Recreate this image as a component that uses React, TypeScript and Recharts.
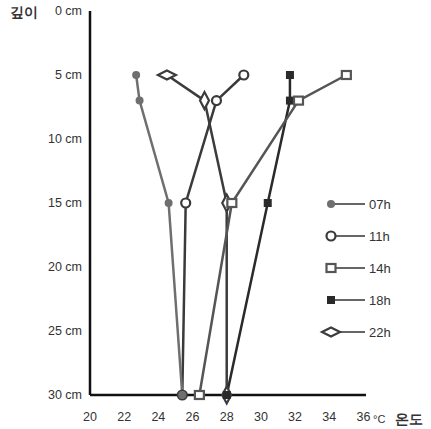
import { LineChart, Line, XAxis, YAxis } from 'recharts';

const DEPTHS = [5, 7, 15, 30];
const T07 = [22.7, 22.9, 24.6, 25.4];
const T11 = [29.0, 27.4, 25.6, 25.4];
const T14 = [35.0, 32.2, 28.3, 26.4];
const T18 = [31.7, 31.7, 30.4, 28.0];
const T22 = [24.5, 26.7, 28.0, 28.0];
const X_TICKS = [20, 22, 24, 26, 28, 30, 32, 34, 36];
const Y_TICKS = [0, 5, 10, 15, 20, 25, 30];

type Marker = 'dot' | 'circle' | 'square' | 'filledSquare' | 'diamond';

const toPoints = (temps: number[]) => temps.map((t, i) => ({ t, d: DEPTHS[i] }));

const SERIES: { name: string; temps: number[]; color: string; marker: Marker }[] = [
  { name: '07h', temps: T07, color: '#6f6f6f', marker: 'dot' },
  { name: '11h', temps: T11, color: '#3a3a3a', marker: 'circle' },
  { name: '14h', temps: T14, color: '#555555', marker: 'square' },
  { name: '18h', temps: T18, color: '#2a2a2a', marker: 'filledSquare' },
  { name: '22h', temps: T22, color: '#3c3c3c', marker: 'diamond' },
];

const FONT = '"Liberation Sans", Arial, sans-serif';

const drawMarker = (marker: Marker, color: string, cx: number, cy: number, key: string | number, wide = true) => {
  switch (marker) {
    case 'dot':
      return <circle key={key} cx={cx} cy={cy} r={4} fill={color} />;
    case 'circle':
      return <circle key={key} cx={cx} cy={cy} r={4.5} fill="#fff" stroke={color} strokeWidth={2.2} />;
    case 'square':
      return <rect key={key} x={cx - 4.5} y={cy - 4} width={9} height={8} fill="#fff" stroke={color} strokeWidth={2.2} />;
    case 'filledSquare':
      return <rect key={key} x={cx - 4} y={cy - 4} width={8} height={8} fill={color} />;
    case 'diamond': {
      const w = wide ? 9 : 4.5;
      const h = wide ? 4.5 : 8.5;
      return (
        <path
          key={key}
          d={`M${cx - w},${cy} L${cx},${cy - h} L${cx + w},${cy} L${cx},${cy + h} Z`}
          fill="#fff"
          stroke={color}
          strokeWidth={2.2}
          strokeLinejoin="miter"
        />
      );
    }
  }
};

const SideLegend = () => (
  <svg width={100} height={150} style={{ position: 'absolute', left: 319, top: 190 }}>
    {SERIES.map((s, i) => {
      const y = 14 + i * 32;
      return (
        <g key={s.name}>
          <line x1={12} y1={y} x2={46} y2={y} stroke="#666" strokeWidth={1.8} />
          {drawMarker(s.marker, s.color, 12, y, 'm', true)}
          <text x={50} y={y + 4.5} fontSize={13} fill="#333" fontFamily={FONT}>
            {s.name}
          </text>
        </g>
      );
    })}
  </svg>
);

export default function App() {
  return (
    <div style={{ position: 'absolute', left: 0, top: 0, width: 431, height: 429, background: '#fff' }}>
      <LineChart width={431} height={429} margin={{ top: 11, right: 65, left: 0, bottom: 0 }}>
        <XAxis
          type="number"
          dataKey="t"
          domain={[20, 36.15]}
          ticks={X_TICKS}
          allowDataOverflow
          height={34}
          tickSize={0}
          tickMargin={17}
          axisLine={{ stroke: '#111', strokeWidth: 2.5 }}
          tick={{ fill: '#333', fontSize: 12.5, fontFamily: FONT }}
          label={({ viewBox }: any) => (
            <g>
              <text x={viewBox.x + viewBox.width + 7} y={viewBox.y + 28} fontSize={11} fill="#333" fontFamily={FONT}>
                °C
              </text>
              <text x={viewBox.x + viewBox.width + 29} y={viewBox.y + 29} fontSize={14} fontWeight="bold" fill="#333" fontFamily={FONT}>
                온도
              </text>
            </g>
          )}
        />
        <YAxis
          type="number"
          dataKey="d"
          domain={[0, 30]}
          ticks={Y_TICKS}
          reversed
          width={90}
          tickSize={0}
          tickMargin={8}
          axisLine={{ stroke: '#111', strokeWidth: 2.5 }}
          tick={{ fill: '#333', fontSize: 12.5, fontFamily: FONT }}
          tickFormatter={(v) => `${v} cm`}
          label={({ viewBox }: any) => (
            <text x={10} y={viewBox.y + 6} fontSize={14} fontWeight="bold" fill="#333" fontFamily={FONT}>
              깊이
            </text>
          )}
        />
        {SERIES.slice().reverse().map((s) => (
          <Line
            key={s.name}
            data={toPoints(s.temps)}
            dataKey="d"
            name={s.name}
            type="linear"
            stroke={s.color}
            strokeWidth={2.5}
            isAnimationActive={false}
            dot={(p: any) => drawMarker(s.marker, s.color, p.cx, p.cy, `${s.name}-${p.index}`, p.index === 0)}
            activeDot={false}
          />
        ))}
      </LineChart>
      <SideLegend />
    </div>
  );
}
